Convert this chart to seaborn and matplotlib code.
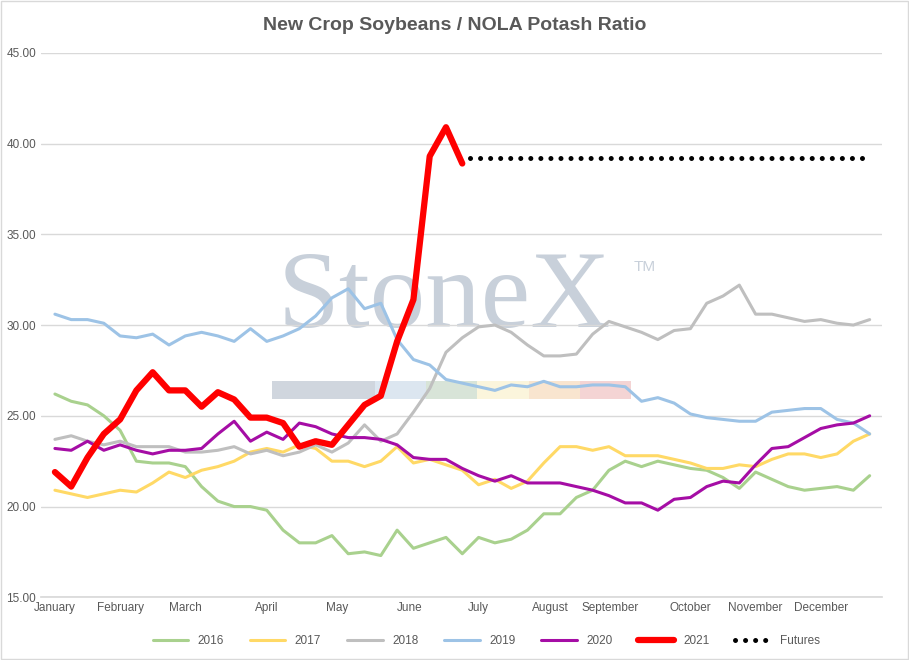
import matplotlib
matplotlib.use("Agg")
import matplotlib.pyplot as plt
import seaborn as sns
import pandas as pd
import numpy as np

months = ["January","February","March","April","May","June","July","August","September","October","November","December"]
month_pos = [0, 4, 8, 13, 17.3, 21.8, 26, 30.4, 34.1, 39, 43, 47]

s2016 = [26.2,25.8,25.6,25.0,24.2,22.5,22.4,22.4,22.2,21.1,20.3,20.0,20.0,19.8,18.7,18.0,18.0,18.4,17.4,17.5,17.3,18.7,17.7,18.0,18.3,17.4,18.3,18.0,18.2,18.7,19.6,19.6,20.5,20.9,22.0,22.5,22.2,22.5,22.3,22.1,22.0,21.6,21.0,21.9,21.5,21.1,20.9,21.0,21.1,20.9,21.7]
s2017 = [20.9,20.7,20.5,20.7,20.9,20.8,21.3,21.9,21.6,22.0,22.2,22.5,23.0,23.2,23.0,23.4,23.2,22.5,22.5,22.2,22.5,23.3,22.4,22.6,22.3,22.0,21.2,21.5,21.0,21.4,22.4,23.3,23.3,23.1,23.3,22.8,22.8,22.8,22.6,22.4,22.1,22.1,22.3,22.2,22.6,22.9,22.9,22.7,22.9,23.6,24.0]
s2018 = [23.7,23.9,23.6,23.4,23.6,23.3,23.3,23.3,23.0,23.0,23.1,23.3,22.9,23.1,22.8,23.0,23.4,23.0,23.5,24.5,23.6,24.0,25.2,26.5,28.5,29.3,29.9,30.0,29.6,28.9,28.3,28.3,28.4,29.5,30.2,29.9,29.6,29.2,29.7,29.8,31.2,31.6,32.2,30.6,30.6,30.4,30.2,30.3,30.1,30.0,30.3]
s2019 = [30.6,30.3,30.3,30.1,29.4,29.3,29.5,28.9,29.4,29.6,29.4,29.1,29.8,29.1,29.4,29.8,30.5,31.5,32.0,30.9,31.2,29.2,28.1,27.8,27.0,26.8,26.6,26.4,26.7,26.6,26.9,26.6,26.6,26.7,26.7,26.6,25.8,26.0,25.7,25.1,24.9,24.8,24.7,24.7,25.2,25.3,25.4,25.4,24.8,24.6,24.0]
s2020 = [23.2,23.1,23.6,23.1,23.4,23.1,22.9,23.1,23.1,23.2,24.0,24.7,23.6,24.1,23.7,24.6,24.4,24.0,23.8,23.8,23.7,23.4,22.7,22.6,22.6,22.1,21.7,21.4,21.7,21.3,21.3,21.3,21.1,20.9,20.6,20.2,20.2,19.8,20.4,20.5,21.1,21.4,21.3,22.3,23.2,23.3,23.8,24.3,24.5,24.6,25.0]
s2021 = [21.9,21.1,22.7,24.0,24.8,26.4,27.4,26.4,26.4,25.5,26.3,25.9,24.9,24.9,24.6,23.3,23.6,23.4,24.5,25.6,26.1,29.1,31.4,39.3,40.9,38.9]
futures_value = 39.2
futures_start = 25.5

rows = []
for name, vals in [("2016",s2016),("2017",s2017),("2018",s2018),("2019",s2019),("2020",s2020),("2021",s2021)]:
    for i, v in enumerate(vals):
        rows.append({"week": i, "value": v, "series": name})
for i in [futures_start, 50]:
    rows.append({"week": i, "value": futures_value, "series": "Futures"})
df = pd.DataFrame(rows)

sns.set_theme(style="white")
plt.rcParams['font.family'] = ['Calibri', 'Liberation Sans', 'DejaVu Sans']

fig = plt.figure(figsize=(9.09, 6.6), dpi=100)
ax = fig.add_axes([0.045, 0.095, 0.925, 0.825])

colors = {"2016":"#A9D18E","2017":"#FFD966","2018":"#BFBFBF","2019":"#9DC3E6","2020":"#A50DA5","2021":"#FF0000"}
widths = {"2016":2.2,"2017":2.2,"2018":2.2,"2019":2.2,"2020":2.2,"2021":4.5}

ax.text(0.48, 0.546, "StoneX", transform=ax.transAxes, fontsize=80, color="#C8D0DA",
        family="Liberation Serif", ha="center", va="center", zorder=0)
ax.text(0.705, 0.60, "TM", transform=ax.transAxes, fontsize=11, color="#C8D0DA", zorder=0)
bar_cols = ["#D0D6DE","#D0D6DE","#DCE6F0","#D8E4D8","#FBF5DC","#F9E5CF","#F4D4D4"]
for k, c in enumerate(bar_cols):
    ax.axhspan(25.9, 26.9, xmin=0.275 + k*0.061, xmax=0.275 + (k+1)*0.061, color=c, zorder=0, lw=0)

for name in ["2016","2017","2018","2019","2020","2021"]:
    sns.lineplot(data=df[df.series == name], x="week", y="value", ax=ax, color=colors[name],
                 lw=widths[name], label=name, zorder=3)
fd = df[df.series == "Futures"]
ax.plot(fd.week, fd.value, ls=(0, (0.01, 2.0)), lw=3.6, color="black", label="Futures",
        zorder=3, dash_capstyle="round")

ax.set_ylim(15, 45)
ax.set_xlim(-0.86, 50.74)
ax.set_yticks(np.arange(15, 46, 5))
ax.set_yticklabels([f"{v:.2f}" for v in np.arange(15, 46, 5)], fontsize=8.5, color="#595959")
ax.set_xticks(month_pos)
ax.set_xticklabels(months, fontsize=8.5, color="#595959")
ax.tick_params(length=0)
ax.grid(axis="y", color="#D9D9D9", lw=1)
ax.set_axisbelow(True)
for s in ax.spines.values():
    s.set_visible(False)
ax.spines["bottom"].set_visible(True)
ax.spines["bottom"].set_color("#D9D9D9")
ax.set_xlabel("")
ax.set_ylabel("")

fig.suptitle("New Crop Soybeans / NOLA Potash Ratio", y=0.975, fontsize=14, fontweight="bold", color="#595959")
h, l = ax.get_legend_handles_labels()
ax.legend(h, l, loc="upper center", bbox_to_anchor=(0.53, -0.05), ncol=7, frameon=False,
          fontsize=8.5, handlelength=3.0, columnspacing=2.2)
for t in ax.get_legend().get_texts():
    t.set_color("#595959")
fig.patches.append(plt.Rectangle((0.001, 0.001), 0.998, 0.998, transform=fig.transFigure,
                                 fill=False, ec="#D9D9D9", lw=1))
fig.savefig("out.png", dpi=100)
